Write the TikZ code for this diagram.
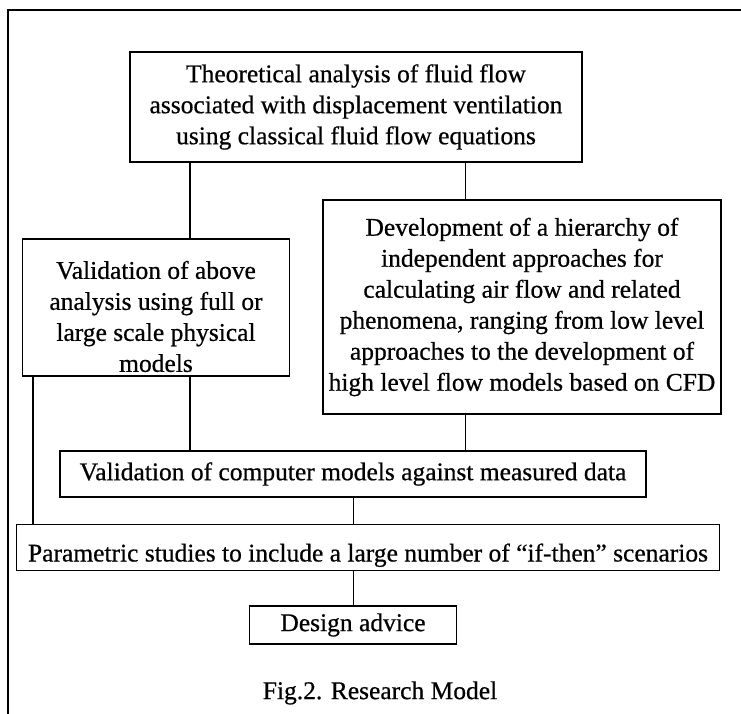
\documentclass[tikz,border=0pt]{standalone}
\usepackage{fontspec}
\setmainfont[FakeBold=0.6]{Liberation Serif}
\usetikzlibrary{positioning}

\begin{document}
\begin{tikzpicture}[
    x=1pt, y=-1pt, % units follow the page, y downwards
    every node/.style={font=\fontsize{25.5}{31}\selectfont},
    box/.style={draw, line width=1.8pt, align=center, inner sep=0pt},
    link/.style={line width=1.6pt}
]
    \useasboundingbox (0,0) rectangle (741,714);

    % the frame round the figure
    \draw [line width=1.8pt] (741,10) -| (8,714);

    % Place the nodes
    \node (theory) [box, minimum width=452pt, minimum height=110pt] at (356,107)
        {Theoretical analysis of fluid flow\\
         associated with displacement ventilation\\
         using classical fluid flow equations};
    \node (valid) [box, anchor=south, minimum width=267pt, inner ysep=4pt] at (156,377)
        {\rule{0pt}{36pt}Validation of above\\ analysis using full or\\ large scale physical\\ models};
    \node (hier) [box, minimum width=398pt, minimum height=214pt] at (522,307)
        {Development of a hierarchy of\\ independent approaches for\\
         calculating air flow and related\\ phenomena, ranging from low level\\
         approaches to the development of\\ high level flow models based on CFD};
    \node (compval) [box, minimum width=586pt, minimum height=46pt] at (353,474)
        {Validation of computer models against measured data};
    \node (param) [box, minimum width=703pt, minimum height=46pt,
                   text height=28pt, text depth=0pt] at (368,547.5)
        {Parametric studies to include a large number of ``if-then'' scenarios};
    \node (design) [box, minimum width=207pt, minimum height=38pt] at (353,625)
        {Design advice};
    \node (caption) at (380,693) {Fig.2. Research Model};

    % where the vertical links run
    \coordinate (ltrunk) at (190,0);
    \coordinate (rtrunk) at (465.5,0);
    \coordinate (otrunk) at (33,0);
    \coordinate (mtrunk) at (353.5,0);

    % Draw the edges
    \draw [link] (theory.south -| ltrunk) -- (valid.north -| ltrunk);
    \draw [link] (theory.south -| rtrunk) -- (hier.north -| rtrunk);
    \draw [link] (valid.south -| ltrunk) -- (compval.north -| ltrunk);
    \draw [link] (hier.south -| rtrunk) -- (compval.north -| rtrunk);
    \draw [link] (valid.south -| otrunk) -- (param.north -| otrunk);
    \draw [link] (compval.south -| mtrunk) -- (param.north -| mtrunk);
    \draw [link] (param.south -| mtrunk) -- (design.north -| mtrunk);
\end{tikzpicture}
\end{document}
